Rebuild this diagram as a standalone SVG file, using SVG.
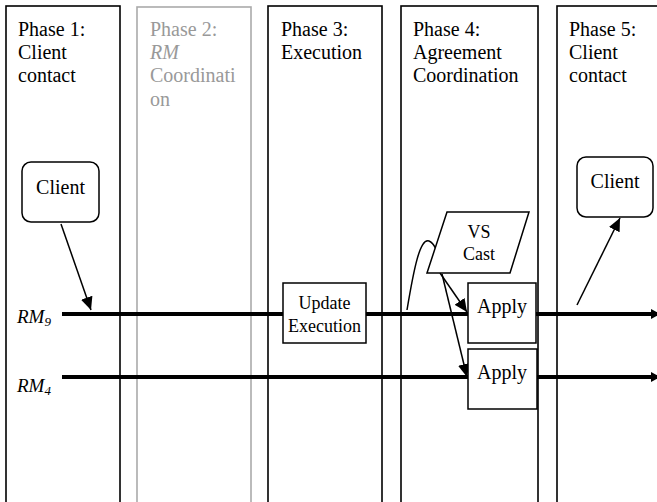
<svg xmlns="http://www.w3.org/2000/svg" width="657" height="502" viewBox="0 0 657 502">
<style>
text{font-family:"Liberation Serif","Times New Roman",serif;fill:#000}
.h{font-size:20px}
.g{fill:#999}
.col{fill:none;stroke:#000;stroke-width:1.6}
.colg{fill:none;stroke:#aaa;stroke-width:1.6}
.box{fill:#fff;stroke:#000;stroke-width:1.5}
.rm{stroke:#000;stroke-width:4;fill:none}
.arr{stroke:#000;stroke-width:1.5;fill:none}
.c{text-anchor:middle}
</style>
<defs>
<marker id="ah" markerUnits="userSpaceOnUse" markerWidth="14" markerHeight="12" refX="13" refY="6" orient="auto">
<path d="M0,0 L13,6 L0,12 Z" fill="#000"/>
</marker>
<marker id="ahl" markerUnits="userSpaceOnUse" markerWidth="10" markerHeight="10" refX="9" refY="5" orient="auto">
<path d="M0,0 L9,5 L0,10 Z" fill="#000"/>
</marker>
</defs>
<rect width="657" height="502" fill="#fff"/>

<g id="phase1">
<rect class="col" x="6" y="6" width="114" height="510"/>
<text class="h" x="18" y="36">Phase 1:</text>
<text class="h" x="18" y="59">Client</text>
<text class="h" x="18" y="82">contact</text>
</g>
<g id="phase2">
<rect class="colg" x="137" y="7" width="114" height="510"/>
<text class="h g" x="150" y="36">Phase 2:</text>
<text class="h g" x="150" y="59" font-style="italic">RM</text>
<text class="h g" x="150" y="82">Coordinati</text>
<text class="h g" x="150" y="106">on</text>
</g>
<g id="phase3">
<rect class="col" x="268" y="6" width="114" height="510"/>
<text class="h" x="281" y="36">Phase 3:</text>
<text class="h" x="281" y="59">Execution</text>
</g>
<g id="phase4">
<rect class="col" x="401" y="6" width="137" height="510"/>
<text class="h" x="413" y="36">Phase 4:</text>
<text class="h" x="413" y="59">Agreement</text>
<text class="h" x="413" y="82">Coordination</text>
</g>
<g id="phase5">
<rect class="col" x="557" y="6" width="140" height="510"/>
<text class="h" x="569" y="36">Phase 5:</text>
<text class="h" x="569" y="59">Client</text>
<text class="h" x="569" y="82">contact</text>
</g>

<g id="rm9-label">
<text x="17" y="323" font-size="19" font-style="italic">RM<tspan font-size="13" dy="3">9</tspan></text>
</g>
<g id="rm4-label">
<text x="17" y="392" font-size="19" font-style="italic">RM<tspan font-size="13" dy="3">4</tspan></text>
</g>

<g id="connectors">
<line class="rm" x1="62" y1="314" x2="660" y2="314" marker-end="url(#ahl)"/>
<line class="rm" x1="62" y1="377" x2="660" y2="377" marker-end="url(#ahl)"/>
<line class="arr" x1="61" y1="224" x2="91" y2="310" marker-end="url(#ah)"/>
<line class="arr" x1="577" y1="305" x2="620" y2="218" marker-end="url(#ah)"/>
<line class="arr" x1="440" y1="273" x2="467" y2="312" marker-end="url(#ah)"/>
<line class="arr" x1="442" y1="274" x2="467" y2="377" marker-end="url(#ah)"/>
<path class="arr" d="M407,310 C414,268 420,238 429,241 C432,242 434,245 436,249"/>
</g>

<g id="client1">
<rect class="box" x="22" y="162" width="77" height="60" rx="9"/>
<text class="h c" x="60.5" y="194">Client</text>
</g>
<g id="client2">
<rect class="box" x="577" y="157" width="76" height="60" rx="9"/>
<text class="h c" x="615" y="188">Client</text>
</g>
<g id="update-execution">
<rect class="box" x="283" y="283" width="83" height="60"/>
<text class="c" x="324.5" y="309" font-size="18">Update</text>
<text class="c" x="324.5" y="332" font-size="18">Execution</text>
</g>
<g id="vs-cast">
<path class="box" d="M447,212 L529,212 L510,273 L427,273 Z"/>
<text class="c" x="479" y="238" font-size="18">VS</text>
<text class="c" x="479" y="260" font-size="18">Cast</text>
</g>
<g id="apply1">
<rect class="box" x="468" y="283" width="68" height="60"/>
<text class="h c" x="502" y="313">Apply</text>
</g>
<g id="apply2">
<rect class="box" x="468" y="349" width="69" height="60"/>
<text class="h c" x="502" y="379">Apply</text>
</g>
</svg>
